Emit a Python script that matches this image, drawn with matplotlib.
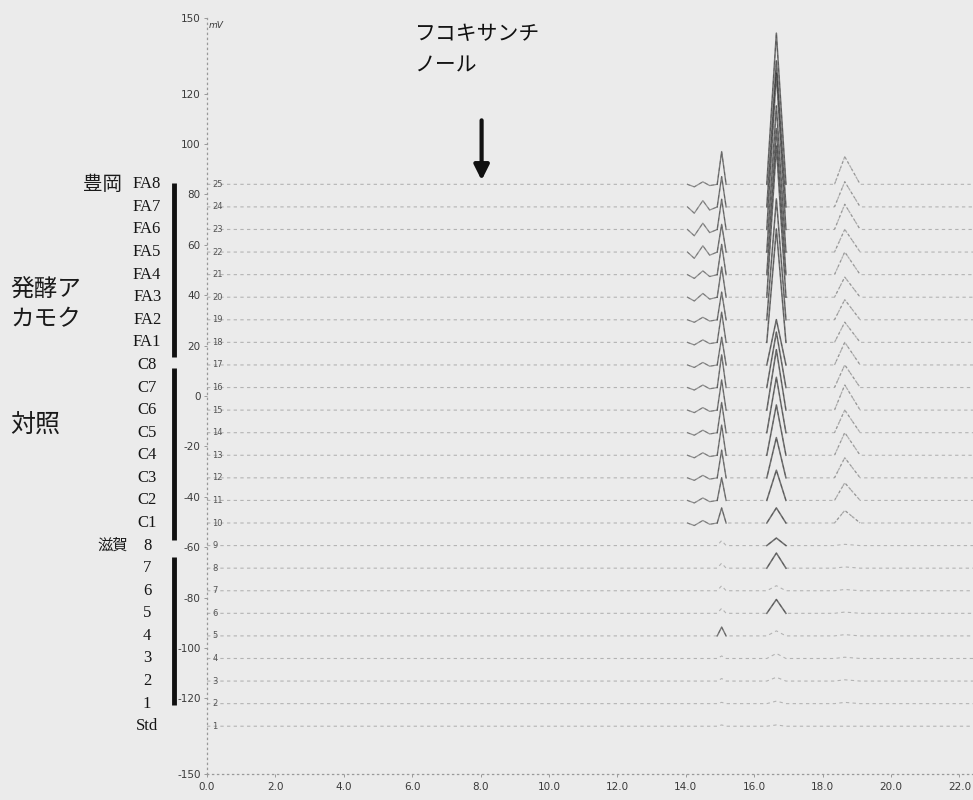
#!/usr/bin/env python3
"""
Stacked HPLC chromatograms: fucoxanthinol check (FA / C / Shiga samples)
"""

import matplotlib
matplotlib.use("Agg")
import matplotlib.pyplot as plt

plt.rcParams["font.family"] = ["Liberation Serif", "Noto Sans CJK JP"]

# samples from top trace (25) down to bottom trace (1)
samples = ["FA8", "FA7", "FA6", "FA5", "FA4", "FA3", "FA2", "FA1",
           "C8", "C7", "C6", "C5", "C4", "C3", "C2", "C1",
           "8", "7", "6", "5", "4", "3", "2", "1", "Std"]
trace_numbers = list(range(25, 0, -1))

# retention times (min) of the three peaks
rt_peaks = [15.05, 16.65, 18.65]

# peak heights (mV above each trace baseline), same order as samples
peak_a = [13, 12, 12, 11, 12, 12, 11, 12,
          11, 13, 12, 12, 12, 11, 9, 6,
          2, 2, 2, 2, 3.5, 1, 1, 0.5, 0.5]
peak_b = [60, 58, 62, 58, 58, 60, 48, 45,
          18, 22, 24, 22, 20, 16, 12, 6,
          3, 6, 2, 5.5, 2, 2, 1.5, 1, 0.5]
peak_c = [11, 10, 10, 9, 9, 8, 8, 8,
          9, 9, 10, 9, 9, 8, 7, 5,
          0.5, 0.5, 0.5, 0.5, 0.5, 0.5, 0.5, 0.5, 0]
# small baseline wiggle just before the first peak
wiggle = [1, 2.5, 2.5, 2.5, 1.5, 1.5, 1, 1,
          1, 1, 1, 1, 1, 1, 1, 1,
          0, 0, 0, 0, 0, 0, 0, 0, 0]

x_ticks = [0, 2, 4, 6, 8, 10, 12, 14, 16, 18, 20, 22]
y_ticks = [150, 120, 100, 80, 60, 40, 20, 0, -20, -40, -60, -80, -100, -120, -150]

# group bars: (key, top sample, bottom sample)
groups = [("FA", "FA8", "FA1"), ("C", "C8", "C1"), ("Shiga", "7", "1")]

# stacking layout
top_offset = 84.0
spacing = 8.96
t_end = 22.4

fig = plt.figure(figsize=(9.73, 8.0), dpi=100)
fig.patch.set_facecolor("#ebebeb")
ax = fig.add_axes([207 / 973, 26 / 800, 766 / 973, 756 / 800])
ax.set_facecolor("none")
ax.set_xlim(0, t_end)
ax.set_ylim(-150, 150)

offsets = [top_offset - i * spacing for i in range(len(samples))]

ta, tb, tc = rt_peaks
for i, name in enumerate(samples):
    b = offsets[i]
    w = wiggle[i]
    xs = [0, 14.05, 14.25, 14.5, 14.7,
          ta - 0.13, ta, ta + 0.13,
          tb - 0.28, tb, tb + 0.28,
          tc - 0.3, tc, tc + 0.45, t_end]
    ys = [0, 0, -w, w, -0.5 * w,
          0, peak_a[i], 0,
          0, peak_b[i], 0,
          0, peak_c[i], 0, 0]
    ys = [b + y for y in ys]
    # faint broken baseline for the whole trace
    ax.plot(xs, ys, color="#8f8f8f", lw=0.8, alpha=0.6,
            linestyle=(0, (3, 3)), zorder=2)
    # wiggle and the two main peaks come out darker on the scan
    if w > 0:
        ax.plot(xs[1:6], ys[1:6], color="#555555", lw=0.9, alpha=0.6, zorder=3)
    if peak_a[i] > 2.5:
        ax.plot(xs[5:8], ys[5:8], color="#2e2e2e", lw=1.0, alpha=0.6, zorder=3)
    if peak_b[i] > 2.5:
        ax.plot(xs[8:11], ys[8:11], color="#1e1e1e", lw=1.1, alpha=0.6, zorder=3)
    if peak_c[i] > 2.5:
        ax.plot(xs[11:14], ys[11:14], color="#7a7a7a", lw=0.9, alpha=0.55,
                linestyle=(0, (2, 1.5)), zorder=3)
    # trace number right of the axis
    ax.text(0.15, b, str(trace_numbers[i]), fontsize=6, color="#555555",
            family="DejaVu Sans", va="center", ha="left", clip_on=False)
    # sample label left of the axis
    ax.text(-1.75, b, name, fontsize=12, color="#151515",
            va="center", ha="center", clip_on=False)

# group bars
bar_pads = {"FA": (0.5, -6.0), "C": (-1.2, -6.7), "Shiga": (4.4, -0.5)}
for key, top_name, bot_name in groups:
    y0 = offsets[samples.index(top_name)] + bar_pads[key][0]
    y1 = offsets[samples.index(bot_name)] + bar_pads[key][1]
    ax.plot([-0.96, -0.96], [y0, y1], color="#111111", lw=3.5,
            solid_capstyle="butt", clip_on=False, zorder=3)

# group names
cjk = ["Noto Sans CJK JP", "DejaVu Sans"]
ax.text(-2.48, offsets[0], "豊岡", fontsize=14, family=cjk, color="#1a1a1a",
        va="center", ha="right", clip_on=False)
ax.text(-5.75, 36, "発酵ア\nカモク", fontsize=17, family=cjk, color="#1a1a1a",
        va="center", ha="left", linespacing=1.35, clip_on=False)
ax.text(-5.75, -11.5, "対照", fontsize=18, family=cjk, color="#1a1a1a",
        va="center", ha="left", clip_on=False)
ax.text(-2.75, offsets[samples.index("8")], "滋賀", fontsize=11, family=cjk,
        color="#1a1a1a", va="center", ha="center", clip_on=False)

# fucoxanthinol annotation
ax.text(6.07, 148, "フコキサンチ\nノール", fontsize=15, family=cjk,
        color="#111111", va="top", ha="left", linespacing=1.55)
ax.annotate("", xy=(8.03, offsets[0] + 0.5), xytext=(8.03, 110.5),
            arrowprops=dict(arrowstyle="-|>,head_width=0.45,head_length=0.9",
                            color="#111111", lw=3.0))

# axes styling
for side in ("top", "right"):
    ax.spines[side].set_visible(False)
for side in ("left", "bottom"):
    ax.spines[side].set_linestyle((0, (1, 3)))
    ax.spines[side].set_color("#9a9a9a")
    ax.spines[side].set_linewidth(0.9)

ax.set_yticks(y_ticks)
ax.set_yticklabels([str(v) for v in y_ticks])
ax.set_xticks(x_ticks)
ax.set_xticklabels([f"{v:.1f}" for v in x_ticks])
ax.tick_params(axis="both", colors="#9a9a9a", labelcolor="#3a3a3a",
               labelsize=7.5, length=2.5, width=0.7)
ax.tick_params(axis="x", pad=3)
ax.tick_params(axis="y", pad=2)
for lab in ax.get_xticklabels() + ax.get_yticklabels():
    lab.set_family("DejaVu Sans")

ax.text(0.05, 149, "mV", fontsize=6.5, family="DejaVu Sans", color="#3a3a3a",
        va="top", ha="left", style="italic")

fig.savefig("out.png", dpi=100, facecolor=fig.get_facecolor())
